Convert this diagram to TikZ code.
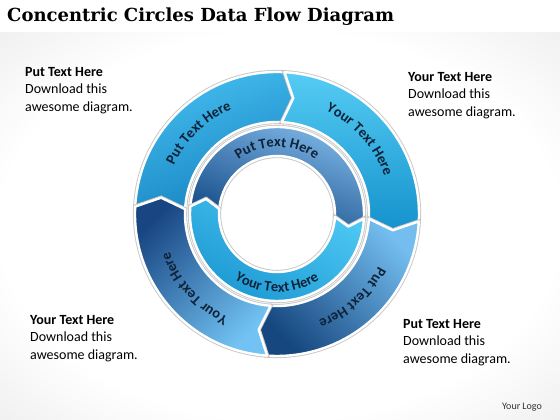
\documentclass[tikz,border=0pt]{standalone}
\usepackage{fontspec}
\setmainfont{Carlito}
\newfontfamily\titlefont{DejaVu Serif}
\usetikzlibrary{decorations.text}

\definecolor{ringtext}{HTML}{0E2238}
\definecolor{tlLight}{HTML}{45BEEF}
\definecolor{tlDark}{HTML}{1784C2}
\definecolor{trLight}{HTML}{55CCF4}
\definecolor{trDark}{HTML}{1592CD}
\definecolor{brLight}{HTML}{74BDEF}
\definecolor{brDark}{HTML}{16477F}
\definecolor{blLight}{HTML}{72C3F3}
\definecolor{blDark}{HTML}{194682}
\definecolor{itLight}{HTML}{7DB6E6}
\definecolor{itDark}{HTML}{154C88}
\definecolor{ibLight}{HTML}{4DC8F3}
\definecolor{ibDark}{HTML}{1C98D3}

\pgfdeclareradialshading{backglow}{\pgfpoint{0bp}{0bp}}{color(0bp)=(white); color(25bp)=(white); color(70bp)=(gray!50)}

\tikzstyle{segment} = [draw=white, line width=2.4pt, line join=round,
   preaction={draw=black!22, line width=4.2pt}]
\tikzstyle{ringlabel} = [decorate, decoration={text along path, text align=center}]
\tikzstyle{sidetext} = [anchor=north west, inner sep=0pt, align=left,
   font=\fontsize{14}{17.5}\selectfont]
\newcommand{\ringfont}{\bfseries\fontsize{14.5}{14.5}\selectfont\color{ringtext}}

% ring arrow: style, tail angle, head angle, inner r, outer r, tip angle
\newcommand{\ringarrow}[6]{%
  \path[#1] (#2:#5pt) arc[start angle=#2, end angle=#3, radius=#5pt]
    -- ({#3-#6}:{(#4+#5)/2}) -- (#3:#4pt)
    arc[start angle=#3, end angle=#2, radius=#4pt]
    -- ({#2-#6}:{(#4+#5)/2}) -- cycle;}

\begin{document}
\begin{tikzpicture}[x=1pt, y=1pt]
  \useasboundingbox (0,0) rectangle (560,420);
  \shade[shading=backglow] (0,0) rectangle (560,388);
  \fill[white] (0,388) rectangle (560,420);

  \node[anchor=base west, inner sep=0pt,
        font=\titlefont\bfseries\fontsize{18}{18}\selectfont] (title) at (7,398)
        {Concentric Circles Data Flow Diagram};

  \coordinate (hub) at (277,206);

  \begin{scope}[shift={(hub)}]
    % outer ring, clockwise
    \ringarrow{segment, left color=tlLight, right color=tlDark, shading angle=20}{177}{87}{92}{142}{5}
    \ringarrow{segment, top color=trLight, bottom color=trDark}{87}{-3}{92}{142}{5}
    \ringarrow{segment, top color=brLight, bottom color=brDark, shading angle=-45}{-3}{-94}{92}{142}{5}
    \ringarrow{segment, top color=blDark, bottom color=blLight, shading angle=45}{-94}{-183}{92}{142}{5}

    % inner ring
    \ringarrow{segment, left color=itLight, right color=itDark, shading angle=-20}{175}{-3}{58}{87}{7}
    \ringarrow{segment, top color=ibLight, bottom color=ibDark, shading angle=-30}{-3}{-185}{58}{87}{7}

    % labels along the arcs
    \path[ringlabel, decoration={text={|\ringfont|Put Text Here}}]
      (174:114pt) arc[start angle=174, end angle=94, radius=114pt];
    \path[ringlabel, decoration={text={|\ringfont|Your Text Here}}]
      (82:114pt) arc[start angle=82, end angle=2, radius=114pt];
    \path[ringlabel, decoration={text={|\ringfont|Put Text Here}}]
      (-8:114pt) arc[start angle=-8, end angle=-88, radius=114pt];
    \path[ringlabel, decoration={text={|\ringfont|Your Text Here}}]
      (-98:114pt) arc[start angle=-98, end angle=-178, radius=114pt];
    \path[ringlabel, decoration={text={|\ringfont|Put Text Here}}]
      (150:67pt) arc[start angle=150, end angle=30, radius=67pt];
    \path[ringlabel, decoration={text={|\ringfont|Your Text Here}}]
      (-150:78pt) arc[start angle=-150, end angle=-30, radius=78pt];
  \end{scope}

  \node[sidetext] (tlNote) at (25,353) {\textbf{Put Text Here}\\Download this\\awesome diagram.};
  \node[sidetext] (trNote) at (408,348) {\textbf{Your Text Here}\\Download this\\awesome diagram.};
  \node[sidetext] (blNote) at (30,105) {\textbf{Your Text Here}\\Download this\\awesome diagram.};
  \node[sidetext] (brNote) at (403,101) {\textbf{Put Text Here}\\Download this\\awesome diagram.};

  \node[font=\fontsize{10}{10}\selectfont, text=black!80] (logo) at (522,13) {Your Logo};
\end{tikzpicture}
\end{document}
